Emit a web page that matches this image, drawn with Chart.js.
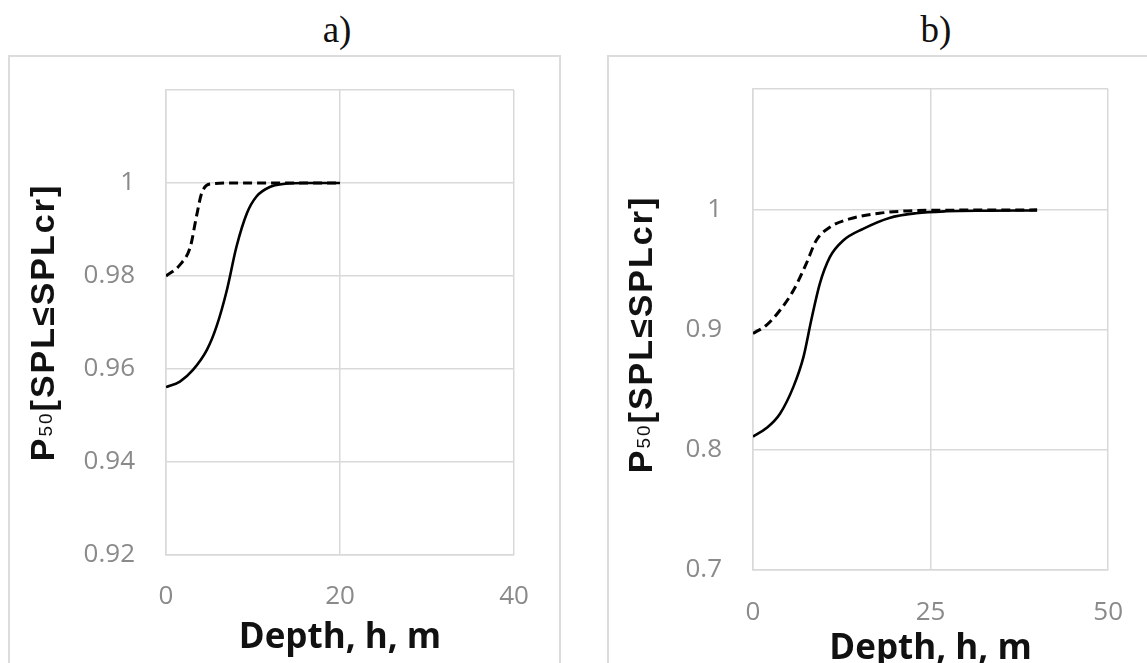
<!DOCTYPE html>
<html>
<head>
<meta charset="utf-8">
<script src="https://cdn.jsdelivr.net/npm/chart.js@4/dist/chart.umd.min.js"></script>
<style>
  html, body { margin: 0; padding: 0; background: #fff; width: 1147px; height: 663px; overflow: hidden; position: relative; }
  .box { position: absolute; border: 2px solid #dcdcdc; box-sizing: border-box; }
  .lbl { position: absolute; font-family: "Liberation Serif", "Times New Roman", serif; font-size: 37px; line-height: 1; color: #111; transform: translateX(-50%); }
  canvas { position: absolute; }
</style>
</head>
<body>
<div class="lbl" style="left:337px; top:11px">a)</div>
<div class="lbl" style="left:936px; top:11px">b)</div>
<div class="box" style="left:8px; top:55px; width:553px; height:640px"></div>
<div class="box" style="left:607px; top:55px; width:570px; height:640px"></div>
<canvas id="chartA" width="553" height="608" style="left:8px; top:55px"></canvas>
<canvas id="chartB" width="543" height="608" style="left:607px; top:55px"></canvas>
<script>
// panel a)
const depthSolidA = [0, 1.6, 3.1, 4.7, 5.8, 7.0, 8.1, 9.3, 10.4, 12.0, 13.5, 16, 20];
const probSolidA  = [0.9561, 0.9573, 0.9598, 0.9641, 0.9691, 0.977, 0.9863, 0.9935, 0.9971, 0.9992, 0.9998, 1.0, 1.0];
const depthDashA  = [0, 1.6, 2.8, 3.5, 4.1, 5.1, 8, 12, 16, 20];
const probDashA   = [0.98, 0.9824, 0.9863, 0.9928, 0.9978, 0.9998, 1.0, 1.0, 1.0, 1.0];

// panel b)
const depthSolidB = [0, 1.9, 3.8, 5.7, 7.1, 8.2, 9.4, 10.8, 12.7, 15.5, 19.2, 23, 27.2, 33, 40];
const probSolidB  = [0.811, 0.818, 0.830, 0.8525, 0.877, 0.9077, 0.938, 0.960, 0.974, 0.9837, 0.9928, 0.9967, 0.9983, 0.9988, 0.999];
const depthDashB  = [0, 1.9, 3.8, 5.7, 7.5, 8.9, 10.8, 13.6, 17.8, 23, 30, 40];
const probDashB   = [0.8967, 0.9036, 0.916, 0.9326, 0.9547, 0.974, 0.985, 0.992, 0.9967, 0.9989, 0.9993, 0.9995];

const ticksXA = [0, 20, 40];
const ticksYA = [0.92, 0.94, 0.96, 0.98, 1, 1.02];
const ticksXB = [0, 25, 50];
const ticksYB = [0.7, 0.8, 0.9, 1, 1.1];

const GRID = '#d9d9d9';
const TICK_COLOR = '#8a8a8a';

function pts(xs, ys) { return xs.map((x, i) => ({ x: x, y: ys[i] })); }

// y title with the subscript "50"
const yTitle = {
  id: 'yTitle',
  afterDraw(chart, args, opts) {
    const ctx = chart.ctx, a = chart.chartArea;
    const big = 'bold ' + opts.size + 'px "Liberation Sans", Arial, sans-serif';
    const small = Math.round(opts.size * 0.56) + 'px "Liberation Sans", Arial, sans-serif';
    const parts = [['P', big, 0], ['50', small, -2], ['[SPL\u2264SPLcr]', big, 0]];
    ctx.save();
    ctx.letterSpacing = opts.spacing + 'px';
    let total = 0;
    parts.forEach(p => { ctx.font = p[1]; total += ctx.measureText(p[0]).width; });
    ctx.translate(opts.x, (a.top + a.bottom) / 2 + opts.dy);
    ctx.rotate(-Math.PI / 2);
    ctx.fillStyle = '#111';
    ctx.textBaseline = 'alphabetic';
    ctx.textAlign = 'left';
    let x = -total / 2;
    const base = opts.size * 0.36;
    parts.forEach(p => {
      ctx.font = p[1];
      ctx.fillText(p[0], x, base + p[2]);
      x += ctx.measureText(p[0]).width;
    });
    ctx.restore();
  }
};

function makeChart(id, cfg) {
  new Chart(document.getElementById(id), {
    type: 'scatter',
    data: {
      datasets: [
        { data: pts(cfg.solidX, cfg.solidY), borderColor: '#000', borderWidth: 2.6, pointRadius: 0,
          showLine: true, cubicInterpolationMode: 'monotone' },
        { data: pts(cfg.dashX, cfg.dashY), borderColor: '#000', borderWidth: 3, borderDash: [9, 5], pointRadius: 0,
          showLine: true, cubicInterpolationMode: 'monotone' }
      ]
    },
    options: {
      responsive: false,
      animation: false,
      layout: { padding: { left: 0, top: cfg.padTop, right: cfg.padRight, bottom: 0 } },
      plugins: {
        legend: { display: false },
        tooltip: { enabled: false },
        yTitle: { x: cfg.titleX, dy: cfg.titleDy, size: 34, spacing: 2 }
      },
      scales: {
        x: {
          type: 'linear',
          min: cfg.ticksX[0], max: cfg.ticksX[cfg.ticksX.length - 1],
          afterBuildTicks: s => { s.ticks = cfg.ticksX.map(v => ({ value: v })); },
          afterFit: s => { s.height = cfg.xHeight; },
          grid: { color: GRID, lineWidth: 1.5, drawTicks: false },
          border: { color: GRID, width: 1.5 },
          ticks: { color: TICK_COLOR, font: { family: 'Open Sans', size: 26 }, padding: cfg.xTickPad, maxRotation: 0 },
          title: { display: true, text: 'Depth, h, m', color: '#111',
                   font: { family: 'Open Sans', size: 35, weight: 'bold', lineHeight: 1 },
                   padding: { top: 0, bottom: cfg.xTitlePad } }
        },
        y: {
          min: cfg.ticksY[0], max: cfg.ticksY[cfg.ticksY.length - 1],
          afterBuildTicks: s => { s.ticks = cfg.ticksY.map(v => ({ value: v })); },
          afterFit: s => { s.width = cfg.yWidth; s.paddingTop = 0; s.paddingBottom = 0; },
          grid: { color: GRID, lineWidth: 1.5, drawTicks: false },
          border: { color: GRID, width: 1.5 },
          ticks: {
            color: TICK_COLOR, font: { family: 'Open Sans', size: 26 }, padding: 31,
            callback: v => (v > 1.001 ? '' : String(Math.round(v * 100) / 100))
          }
        }
      }
    },
    plugins: [yTitle]
  });
}

makeChart('chartA', {
  solidX: depthSolidA, solidY: probSolidA, dashX: depthDashA, dashY: probDashA,
  ticksX: ticksXA, ticksY: ticksYA,
  padTop: 35, padRight: 47, xHeight: 108, yWidth: 158,
  xTickPad: 26, xTitlePad: 7, titleX: 34, titleDy: 0
});

makeChart('chartB', {
  solidX: depthSolidB, solidY: probSolidB, dashX: depthDashB, dashY: probDashB,
  ticksX: ticksXB, ticksY: ticksYB,
  padTop: 34, padRight: 40, xHeight: 93, yWidth: 146,
  xTickPad: 27, xTitlePad: -4, titleX: 33, titleDy: 5
});
</script>
</body>
</html>
